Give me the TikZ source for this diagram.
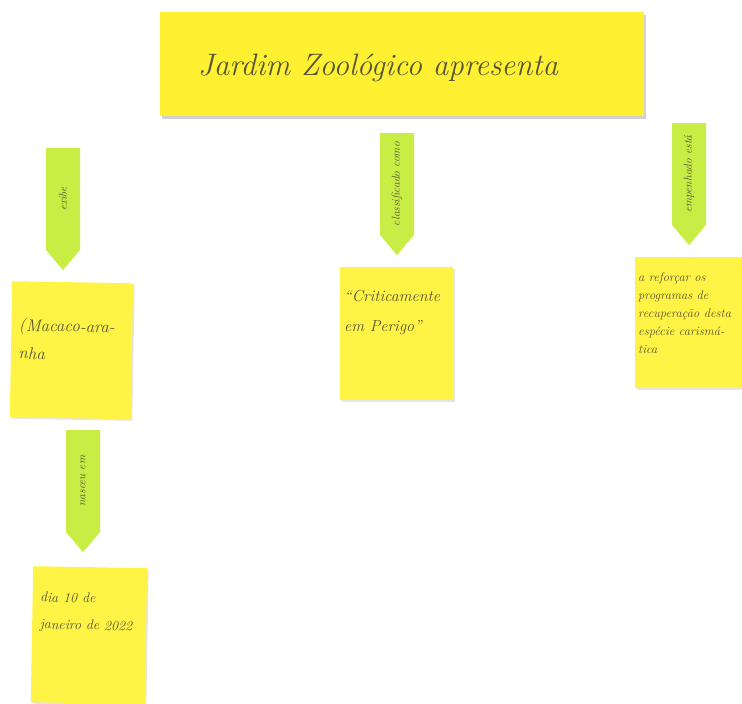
\documentclass[tikz,border=0pt]{standalone}
\usetikzlibrary{shapes.arrows,shadows}
\definecolor{noteyellow}{RGB}{255,244,70}
\definecolor{bannery}{RGB}{255,240,50}
\definecolor{tabgreen}{RGB}{200,238,70}
\definecolor{ink}{RGB}{85,85,55}
\begin{document}
\begin{tikzpicture}[x=1pt,y=-1pt,
  note/.style={fill=noteyellow, draw=none, anchor=north west, inner sep=0pt,
    drop shadow={shadow xshift=1.5pt,shadow yshift=-1.5pt,fill=black!20,opacity=.5}},
  notetext/.style={anchor=north west, inner sep=0pt, align=left, text=ink, font=\itshape},
  tab/.style={single arrow, shape border rotate=180, rotate=90, anchor=tail,
    fill=tabgreen, draw=none, minimum height=122pt, minimum width=34pt,
    single arrow head extend=0pt, single arrow head indent=0pt,
    single arrow tip angle=80, inner sep=2pt,
    text=ink, font=\itshape\fontsize{11.5}{13}\selectfont}]
\useasboundingbox (0,0) rectangle (742,704);
\fill[white] (0,0) rectangle (742,704);
% banner
\fill[black!18] (162,15) rectangle (646,119);
\node[fill=bannery, minimum width=484pt, minimum height=104pt, anchor=north west, inner sep=0pt]
  (title) at (160,12) {};
\node[text=ink, font=\fontsize{31}{36}\selectfont\itshape] (titletext) at (378,68) {Jardim Zoológico apresenta};
% arrows (linking phrases)
\node[tab] (l1) at (63,148) {exibe};
\node[tab] (l2) at (83,430) {nasceu em};
\node[tab] (l3) at (397,133) {classificado como};
\node[tab] (l4) at (689,123) {empenhado está};
% notes
\node[note, minimum width=121pt, minimum height=136pt, rotate=-1] (n1) at (12,281) {};
\node[notetext, font=\itshape\fontsize{17}{28}\selectfont, rotate=-1] (t1) at (19,318) {(Macaco-ara-\\nha};
\node[note, minimum width=114pt, minimum height=136pt, rotate=-1] (n2) at (33,566) {};
\node[notetext, font=\itshape\fontsize{14}{27}\selectfont, rotate=-1] (t2) at (40,592) {dia 10 de\\janeiro de 2022};
\node[note, minimum width=113pt, minimum height=133pt] (n3) at (340,267) {};
\node[notetext, font=\itshape\fontsize{16}{30}\selectfont] (t3) at (344,290) {“Criticamente\\em Perigo”};
\node[note, minimum width=110pt, minimum height=131pt] (n4) at (635,257) {};
\node[notetext, font=\itshape\fontsize{12.5}{18}\selectfont] (t4) at (638,272) {a reforçar os\\programas de\\recuperação desta\\espécie carismá-\\tica};
\end{tikzpicture}
\end{document}
